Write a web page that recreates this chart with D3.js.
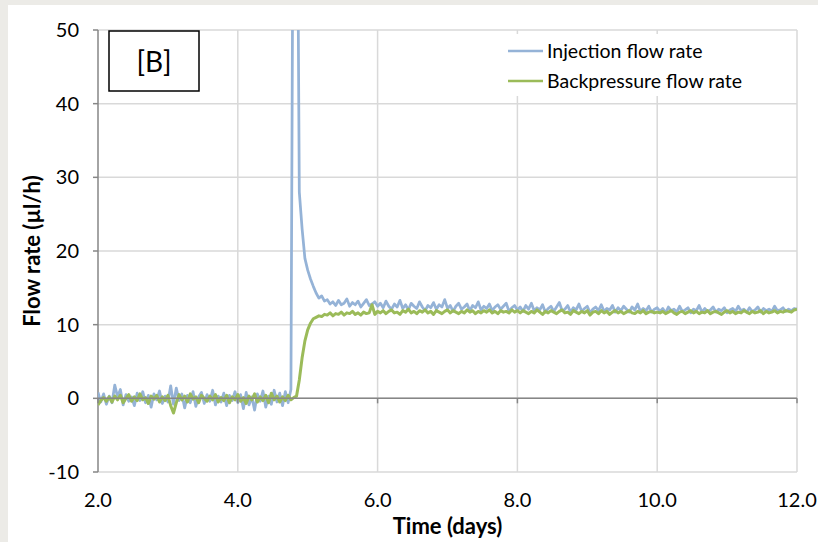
<!DOCTYPE html>
<html>
<head>
<meta charset="utf-8">
<script src="https://cdn.jsdelivr.net/npm/d3@7"></script>
<style>
  html, body { margin: 0; padding: 0; background: #ECEBE7; }
  svg { display: block; }
  text { font-family: Lato, "Open Sans", sans-serif; fill: #000; }
</style>
</head>
<body>
<svg id="chart" width="818" height="542"></svg>
<script>
// ---------------- DATA ----------------
const timeStart = 2.0;      // days
const timeStep = 0.04;      // sampling interval (days)
const xTicks = [2, 4, 6, 8, 10, 12];
const yTicks = [-10, 0, 10, 20, 30, 40, 50];
const seriesNames = ["Injection flow rate", "Backpressure flow rate"];
const panelLabel = "[B]";

const injection = [
  0.8, -0.5, 0.6, -0.8, 0.3, -0.6, 1.8, 0.2, 1.2, -0.9,
  0.5, -0.4, 0.2, -1.0, 0.7, -0.3, 0.9, -0.6, 0.4, -1.2,
  0.6, -0.2, 1.0, -0.7, 0.3, -0.5, 1.7, -0.8, 1.4, -0.3,
  0.6, -1.3, 0.4, -0.6, 0.9, -1.1, 0.2, 0.8, -0.7, 0.5,
  -0.4, 1.1, -0.9, 0.3, -0.5, 0.7, -1.0, 0.4, -0.3, 0.9,
  -0.6, 0.5, -1.4, 0.8, -0.9, 0.2, -1.6, 0.6, -0.4, 1.0,
  -1.2, 0.3, -0.8, 1.1, -0.5, 0.7, -1.0, 0.9, -0.6, 1.2,
  90, 90, 28, 23, 19, 17.4, 16.2, 15.2, 14.3, 13.6, 13.9, 13.2,
  13.4, 12.8, 13.1, 12.6, 13.3, 12.7, 12.9, 13.5, 12.5, 13.0, 12.7, 13.2, 12.4, 12.9, 13.4, 12.6, 12.8, 13.1, 12.5,
  12.9, 12.3, 13.2, 12.5, 12.1, 12.8, 12.4, 13.3, 12.2, 12.7,
  12.0, 12.9, 12.5, 12.2, 13.1, 12.4, 11.9, 12.6, 12.3, 13.0,
  12.1, 12.7, 12.4, 13.4, 12.2, 12.6, 11.8, 12.5, 12.9, 12.1,
  12.4, 12.8, 11.9, 12.6, 12.3, 13.1, 12.0, 12.5, 12.2, 12.8,
  11.9, 12.4, 12.7, 12.1, 12.5, 12.9, 11.8, 12.3, 12.6, 12.0,
  12.4, 11.8, 12.6, 12.1, 12.9, 11.9, 12.3, 12.0, 12.7, 11.7,
  12.2, 12.5, 11.8, 12.4, 13.0, 11.9, 12.1, 12.6, 11.7, 12.3,
  12.0, 12.8, 11.8, 12.2, 12.5, 11.6, 12.1, 12.4, 11.9, 12.7,
  11.8, 12.2, 12.0, 12.6, 11.7, 12.3, 11.9, 12.5, 12.1, 11.7,
  12.4, 12.0, 12.8, 11.8, 12.2, 11.9, 12.5, 11.7, 12.1, 12.3,
  11.8, 12.2, 11.6, 12.4, 11.9, 12.1, 11.7, 12.5, 11.8, 12.0,
  12.3, 11.6, 12.1, 11.9, 12.6, 11.7, 12.2, 11.8, 12.0, 12.4,
  11.7, 12.1, 11.9, 12.3, 11.6, 12.0, 12.2, 11.8, 12.5, 11.9,
  12.1, 11.7, 12.3, 11.8, 12.0, 12.4, 11.7, 12.2, 11.9, 12.1,
  11.8, 12.5, 11.9, 12.0, 12.3, 11.8, 12.1, 11.9, 12.2, 12.1
];

const backpressure = [
  -0.9, -0.3, 0.1, -0.4, 0.2, -0.5, 0.3, -0.2, 0.4, -0.6,
  0.0, 0.5, -0.4, 0.2, -0.3, 0.6, -0.2, 0.1, -0.7, 0.3,
  -0.1, 0.4, -0.5, 0.2, -0.3, 0.4, -1.0, -2.0, -0.6, 0.5,
  -0.2, 0.3, -0.5, 0.6, -0.1, 0.2, -0.6, 0.4, 0.0, -0.4,
  0.3, -0.2, 0.5, -0.5, 0.1, -0.3, 0.4, -0.6, 0.2, -0.2,
  0.5, -0.4, 0.1, -0.7, 0.3, -0.2, 0.6, -0.5, 0.2, -0.3,
  0.4, -0.6, 0.7, -0.2, 0.3, -0.5, 0.2, -0.3, 0.4, -0.2,
  0.1, 0.3, 2.5, 5.5, 7.8, 9.3, 10.2, 10.8, 11.0, 11.2, 11.1, 11.4,
  11.3, 11.6, 11.2, 11.5, 11.4, 11.7, 11.3, 11.6, 11.5, 11.8, 11.4, 11.6, 11.3, 11.7, 11.5, 11.6, 12.7, 11.4, 11.8,
  11.6, 11.9, 11.5, 11.8, 12.0, 11.6, 11.7, 11.4, 11.9, 11.7,
  12.1, 11.6, 11.8, 11.5, 11.9, 11.7, 12.0, 11.6, 11.8, 11.4,
  11.9, 11.7, 11.5, 11.8, 12.0, 11.6, 11.9, 11.7, 11.5, 11.8,
  11.6, 12.0, 11.7, 11.9, 11.5, 11.8, 11.6, 11.9, 11.7, 12.0,
  11.6, 11.8, 11.5, 11.9, 11.7, 11.8, 11.6, 12.0, 11.7, 11.9,
  11.6, 11.9, 11.7, 11.5, 11.8, 11.6, 12.0, 11.7, 11.4, 11.8,
  11.6, 11.9, 11.7, 11.5, 11.8, 12.0, 11.6, 11.7, 11.4, 11.9,
  11.7, 11.5, 11.8, 11.6, 11.9, 11.3, 11.7, 11.8, 11.5, 11.9,
  11.6, 11.8, 11.4, 11.7, 11.9, 11.6, 11.8, 11.5, 11.7, 11.9,
  11.6, 11.5, 11.8, 11.6, 11.9, 11.5, 11.7, 11.8, 11.6, 11.7,
  11.6, 11.8, 11.5, 11.7, 11.9, 11.6, 11.4, 11.7, 11.8, 11.5,
  11.7, 11.9, 11.6, 11.8, 11.5, 11.7, 11.6, 11.9, 11.5, 11.7,
  11.8, 11.6, 11.4, 11.7, 11.9, 11.6, 11.8, 11.5, 11.7, 11.6,
  11.9, 11.7, 11.5, 11.8, 11.6, 11.7, 11.9, 11.5, 11.8, 11.6,
  11.7, 11.9, 11.6, 11.8, 11.7, 11.9, 11.8, 11.7, 12.0, 12.1
];

// ---------------- CHART ----------------
const W = 818, H = 542;
const plot = { left: 98, right: 797, top: 30, bottom: 472 };
const colors = { injection: "#95B3D7", backpressure: "#9BBB59", grid: "#D9D9D9", axis: "#868686" };

const svg = d3.select("#chart");

// white panel
svg.append("rect").attr("x", 8).attr("y", 5).attr("width", W - 8).attr("height", H - 5).attr("fill", "#fff");

const x = d3.scaleLinear().domain([2, 12]).range([plot.left, plot.right]);
const y = d3.scaleLinear().domain([-10, 50]).range([plot.bottom, plot.top]);

// gridlines
const g = svg.append("g");
g.selectAll("line.hgrid").data(yTicks).enter().append("line")
  .attr("x1", plot.left).attr("x2", plot.right)
  .attr("y1", d => y(d)).attr("y2", d => y(d))
  .attr("stroke", colors.grid).attr("stroke-width", 1.5);
g.selectAll("line.vgrid").data(xTicks.filter(d => d !== 2)).enter().append("line")
  .attr("x1", d => x(d)).attr("x2", d => x(d))
  .attr("y1", plot.top).attr("y2", plot.bottom)
  .attr("stroke", colors.grid).attr("stroke-width", 1.5);

// clip
svg.append("clipPath").attr("id", "clip").append("rect")
  .attr("x", plot.left).attr("y", plot.top)
  .attr("width", plot.right - plot.left).attr("height", plot.bottom - plot.top);

// axes lines
svg.append("line").attr("x1", plot.left).attr("x2", plot.left)
  .attr("y1", plot.top).attr("y2", plot.bottom)
  .attr("stroke", colors.axis).attr("stroke-width", 1.5);
svg.selectAll("line.ytick").data(yTicks).enter().append("line")
  .attr("x1", plot.left - 5).attr("x2", plot.left)
  .attr("y1", d => y(d)).attr("y2", d => y(d))
  .attr("stroke", colors.axis).attr("stroke-width", 1.5);

// y tick labels
svg.selectAll("text.ylab").data(yTicks).enter().append("text")
  .attr("x", 79).attr("y", d => y(d)).attr("dy", "0.35em")
  .attr("text-anchor", "end").attr("font-size", 20)
  .text(d => d);

// x tick labels
svg.selectAll("text.xlab").data(xTicks).enter().append("text")
  .attr("x", d => x(d)).attr("y", 500).attr("dy", "0.35em")
  .attr("text-anchor", "middle").attr("font-size", 20)
  .text(d => d3.format(".1f")(d));

// lines
const line = d3.line()
  .x((d, i) => x(timeStart + i * timeStep))
  .y(d => y(d));

const lines = svg.append("g").attr("clip-path", "url(#clip)");
lines.append("path").datum(injection)
  .attr("d", line).attr("fill", "none")
  .attr("stroke", colors.injection).attr("stroke-width", 2.75).attr("stroke-linejoin", "round");
lines.append("path").datum(backpressure)
  .attr("d", line).attr("fill", "none")
  .attr("stroke", colors.backpressure).attr("stroke-width", 3).attr("stroke-linejoin", "round");

// x axis at zero
svg.append("line").attr("x1", plot.left).attr("x2", plot.right)
  .attr("y1", y(0)).attr("y2", y(0))
  .attr("stroke", colors.axis).attr("stroke-width", 1.5);
svg.selectAll("line.xtick").data(xTicks).enter().append("line")
  .attr("x1", d => x(d)).attr("x2", d => x(d))
  .attr("y1", y(0)).attr("y2", y(0) + 5)
  .attr("stroke", colors.axis).attr("stroke-width", 1.5);

// axis titles
svg.append("text")
  .attr("transform", `translate(32, ${(plot.top + plot.bottom) / 2}) rotate(-90)`)
  .attr("text-anchor", "middle").attr("dy", "0.35em")
  .attr("font-size", 22).attr("font-weight", "bold")
  .text("Flow rate (µl/h)");
svg.append("text")
  .attr("x", (plot.left + plot.right) / 2).attr("y", 526).attr("dy", "0.35em")
  .attr("text-anchor", "middle")
  .attr("font-size", 22).attr("font-weight", "bold")
  .text("Time (days)");

// legend
const lg = svg.append("g");
lg.append("rect").attr("x", 505).attr("y", 34).attr("width", 242).attr("height", 62).attr("fill", "#fff");
const legendColors = [colors.injection, colors.backpressure];
seriesNames.forEach((name, i) => {
  const ly = 51 + i * 30;
  lg.append("line").attr("x1", 508).attr("x2", 543).attr("y1", ly).attr("y2", ly)
    .attr("stroke", legendColors[i]).attr("stroke-width", 2.5);
  lg.append("text").attr("x", 547).attr("y", ly).attr("dy", "0.35em")
    .attr("font-size", 19.5).text(name);
});

// panel label box
svg.append("rect").attr("x", 109).attr("y", 31).attr("width", 90).attr("height", 60)
  .attr("fill", "#fff").attr("stroke", "#000").attr("stroke-width", 1.5);
svg.append("text").attr("x", 154).attr("y", 62).attr("dy", "0.35em")
  .attr("text-anchor", "middle").attr("font-size", 28).text(panelLabel);
</script>
</body>
</html>
